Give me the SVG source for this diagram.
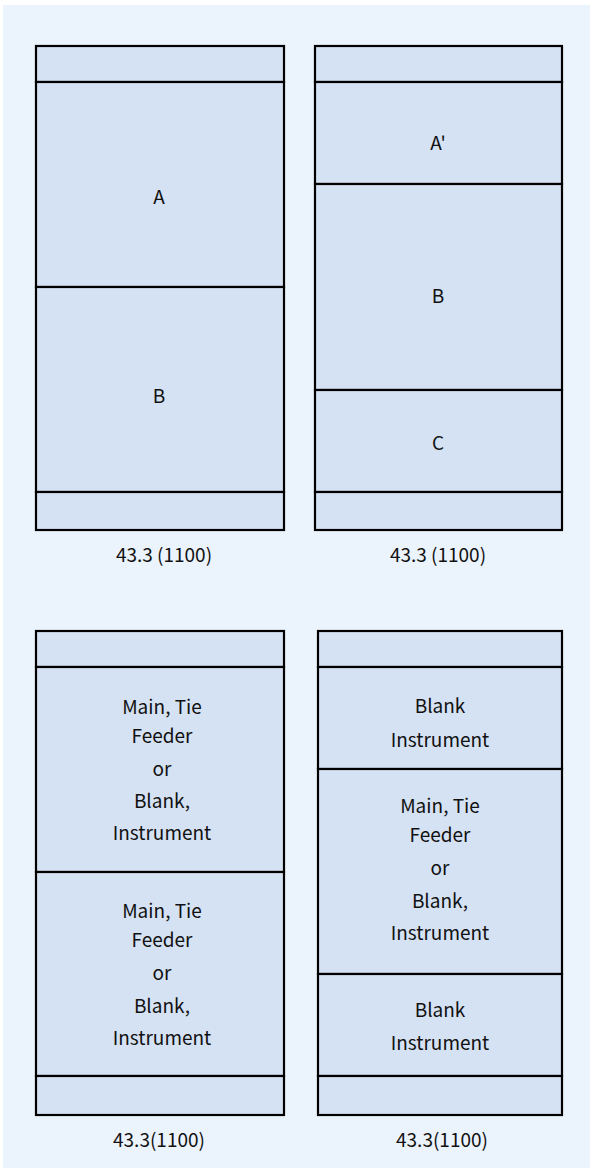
<svg xmlns="http://www.w3.org/2000/svg" width="593" height="1171" viewBox="0 0 593 1171">
<style>
.bg{fill:#ffffff}
.panel{fill:#ebf3fc}
.cell{fill:#d5e2f3;stroke:#000;stroke-width:2.2}
.t{font-family:"Noto Sans CJK JP","Noto Sans",sans-serif;font-size:19px;fill:#111;text-anchor:middle}
</style>
<rect class="bg" x="0" y="0" width="593" height="1171"/>
<rect class="panel" x="3" y="5" width="587" height="1163"/>
<g id="panel-top-left">
<rect class="cell" x="36" y="46" width="248" height="36"/>
<rect class="cell" x="36" y="82" width="248" height="205"/>
<rect class="cell" x="36" y="287" width="248" height="205"/>
<rect class="cell" x="36" y="492" width="248" height="38"/>
<text class="t" x="159" y="204">A</text>
<text class="t" x="159" y="403">B</text>
<text class="t" x="164" y="562">43.3 (1100)</text>
</g>
<g id="panel-top-right">
<rect class="cell" x="315" y="46" width="247" height="36"/>
<rect class="cell" x="315" y="82" width="247" height="102"/>
<rect class="cell" x="315" y="184" width="247" height="206"/>
<rect class="cell" x="315" y="390" width="247" height="102"/>
<rect class="cell" x="315" y="492" width="247" height="38"/>
<text class="t" x="438" y="150">A'</text>
<text class="t" x="438" y="303">B</text>
<text class="t" x="438" y="450">C</text>
<text class="t" x="438" y="562">43.3 (1100)</text>
</g>
<g id="panel-bottom-left">
<rect class="cell" x="36" y="631" width="248" height="36"/>
<rect class="cell" x="36" y="667" width="248" height="205"/>
<rect class="cell" x="36" y="872" width="248" height="204"/>
<rect class="cell" x="36" y="1076" width="248" height="39"/>
<text class="t" x="162" y="714">Main, Tie</text>
<text class="t" x="162" y="743">Feeder</text>
<text class="t" x="162" y="776">or</text>
<text class="t" x="162" y="808">Blank,</text>
<text class="t" x="162" y="840">Instrument</text>
<text class="t" x="162" y="918">Main, Tie</text>
<text class="t" x="162" y="947">Feeder</text>
<text class="t" x="162" y="980">or</text>
<text class="t" x="162" y="1013">Blank,</text>
<text class="t" x="162" y="1045">Instrument</text>
<text class="t" x="159" y="1147">43.3(1100)</text>
</g>
<g id="panel-bottom-right">
<rect class="cell" x="318" y="631" width="244" height="36"/>
<rect class="cell" x="318" y="667" width="244" height="102"/>
<rect class="cell" x="318" y="769" width="244" height="205"/>
<rect class="cell" x="318" y="974" width="244" height="102"/>
<rect class="cell" x="318" y="1076" width="244" height="39"/>
<text class="t" x="440" y="713">Blank</text>
<text class="t" x="440" y="747">Instrument</text>
<text class="t" x="440" y="813">Main, Tie</text>
<text class="t" x="440" y="842">Feeder</text>
<text class="t" x="440" y="875">or</text>
<text class="t" x="440" y="908">Blank,</text>
<text class="t" x="440" y="940">Instrument</text>
<text class="t" x="440" y="1017">Blank</text>
<text class="t" x="440" y="1050">Instrument</text>
<text class="t" x="442" y="1147">43.3(1100)</text>
</g>
<g id="connectors"></g>
</svg>
